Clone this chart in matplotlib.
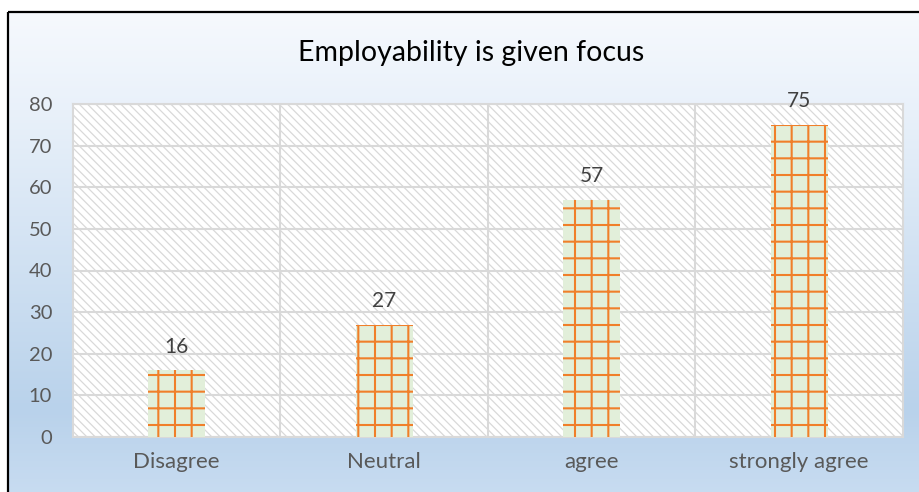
import numpy as np
import matplotlib
matplotlib.use("Agg")
import matplotlib.pyplot as plt
from matplotlib.patches import Rectangle
from matplotlib.colors import LinearSegmentedColormap

categories = ["Disagree", "Neutral", "agree", "strongly agree"]
values = [16, 27, 57, 75]
yticks = [0, 10, 20, 30, 40, 50, 60, 70, 80]
title = "Employability is given focus"

plt.rcParams['font.family'] = ['Lato', 'DejaVu Sans']

W, H = 920, 492
fig = plt.figure(figsize=(W / 100, H / 100), dpi=100)
fig.patch.set_facecolor("white")

# background gradient + border
bg = fig.add_axes([0, 0, 1, 1], zorder=-10)
bg.axis("off")
cmap = LinearSegmentedColormap.from_list(
    "g", [(0.0, "#f6f9fd"), (0.2, "#e9f1fa"), (0.82, "#b9d2eb"), (1.0, "#c8dcf1")])
grad = np.linspace(0, 1, 256).reshape(-1, 1)
bg.imshow(grad, cmap=cmap, aspect="auto", extent=(9, W + 5, H + 5, 13),
          interpolation="bilinear")
bg.plot([8, 8], [12, H + 5], color="black", lw=1.6, solid_capstyle="butt")
bg.plot([8, W + 5], [12, 12], color="black", lw=1.6, solid_capstyle="butt")
bg.set_xlim(0, W)
bg.set_ylim(H, 0)

ax = fig.add_axes([73 / W, 1 - 437 / H, 830 / W, 333 / H])
ax.set_facecolor("white")

with plt.rc_context({'hatch.linewidth': 0.9}):
    bgrect = Rectangle((0, 0), 1, 1, transform=ax.transAxes, facecolor="white",
                       edgecolor="#d9d9d9", hatch="\\\\\\\\", lw=0, zorder=0)
ax.add_patch(bgrect)

x = np.arange(len(categories))
with plt.rc_context({'hatch.linewidth': 1.5}):
    bars = ax.bar(x, values, width=0.275, color="#e2efda", edgecolor="#f07f2a",
                  hatch="+", linewidth=0, zorder=3)

for xi, v in zip(x, values):
    ax.annotate(str(v), (xi, v), xytext=(0, 10), textcoords="offset points",
                ha="center", va="bottom", fontsize=15, color="#404040", zorder=5)

ax.set_xlim(-0.5, len(categories) - 0.5)
ax.set_ylim(0, 80)
ax.set_yticks(yticks)
ax.set_yticklabels([str(t) for t in yticks])
ax.set_xticks(x)
ax.set_xticklabels(categories)
ax.tick_params(axis="both", length=0, labelsize=14.5, labelcolor="#595959")
ax.tick_params(axis="x", labelsize=16)
ax.tick_params(axis="y", pad=15)
ax.tick_params(axis="x", pad=11)

ax.set_xticks([0.5, 1.5, 2.5], minor=True)
ax.grid(axis="y", which="major", color="#d9d9d9", lw=1.5, zorder=1)
ax.grid(axis="x", which="minor", color="#d9d9d9", lw=1.5, zorder=1)
ax.tick_params(axis="x", which="minor", length=0)
ax.set_axisbelow(True)
for s in ax.spines.values():
    s.set_color("#d9d9d9")
    s.set_linewidth(1.5)

fig.text(471 / W, 1 - 53 / H, title, ha="center", va="center", fontsize=20.5,
         color="black")

fig.savefig("out.png", dpi=100)
